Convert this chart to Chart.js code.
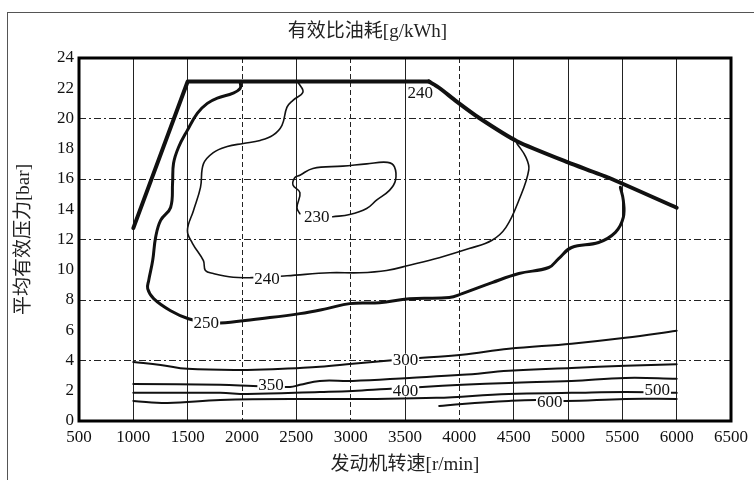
<!DOCTYPE html>
<html>
<head>
<meta charset="utf-8">
<script src="https://cdn.jsdelivr.net/npm/chart.js@4.4.1/dist/chart.umd.min.js"></script>
<style>
  html, body { margin: 0; padding: 0; background: #fff; }
</style>
</head>
<body>
<canvas id="bsfcChart" width="754" height="480"></canvas>
<script>
// ===== DATA =====
const rpmRange = [500, 6500];
const rpmStep = 500;
const barRange = [0, 24];
const barStep = 2;
const dashedRpm = [2000, 3000, 4000];
const gridBar = [4, 8, 12, 16, 20];

// full load line [rpm, bar]
const fullLoadEdge = [[1000, 12.75], [1500, 22.45], [3720, 22.45]];
const fullLoadCurve = [[3720, 22.45], [3820, 22.0], [3970, 21.15], [4180, 20.05], [4530, 18.5], [5000, 17.1], [5370, 16.1], [6000, 14.1]];

// BSFC contours [rpm, bar]
const c230 = [[2533, 13.7], [2506, 14.1], [2533, 15.1], [2469, 15.6], [2487, 16.1], [2533, 16.25], [2652, 16.7], [2927, 16.85], [3147, 17.0], [3339, 17.1], [3403, 16.8], [3412, 15.9], [3357, 15.25], [3238, 14.6], [3147, 14.05], [2991, 13.65], [2835, 13.5]];
const c240 = [[2515, 22.4], [2561, 21.75], [2469, 21.2], [2414, 20.75], [2368, 19.55], [2286, 18.9], [2167, 18.55], [2011, 18.35], [1864, 18.15], [1736, 17.75], [1645, 17.0], [1618, 15.45], [1553, 13.9], [1498, 12.6], [1544, 11.75], [1645, 10.6], [1663, 9.95], [1736, 9.75], [1919, 9.5], [2093, 9.48], [2414, 9.6], [2808, 9.8], [3083, 9.8], [3330, 9.95], [3540, 10.3], [3815, 10.8], [4090, 11.4], [4301, 11.95], [4429, 12.8], [4548, 14.6], [4639, 16.6], [4612, 17.45], [4530, 18.35]];
const c250 = [[1984, 22.4], [1984, 22.0], [1919, 21.68], [1773, 21.35], [1681, 21.0], [1590, 20.36], [1498, 19.23], [1416, 18.1], [1370, 17.04], [1361, 15.72], [1343, 14.12], [1251, 13.26], [1205, 12.14], [1178, 10.61], [1141, 9.28], [1132, 8.75], [1187, 8.09], [1343, 7.29], [1507, 6.76], [1681, 6.5], [1846, 6.5], [2167, 6.76], [2533, 7.1], [2780, 7.43], [2991, 7.76], [3266, 7.82], [3540, 8.09], [3907, 8.16], [4026, 8.42], [4301, 9.15], [4548, 9.75], [4823, 10.15], [4914, 10.74], [5033, 11.47], [5281, 11.8], [5436, 12.47], [5509, 13.46], [5509, 14.59], [5482, 15.45]];
const c300 = [[1000, 3.9], [1251, 3.71], [1498, 3.45], [2048, 3.38], [2533, 3.51], [2716, 3.58], [3018, 3.78], [3330, 3.98], [3660, 4.18], [4026, 4.38], [4456, 4.77], [5033, 5.11], [5528, 5.5], [6000, 5.97]];
const c350 = [[1000, 2.45], [1800, 2.39], [2103, 2.32], [2442, 2.25], [2533, 2.39], [2716, 2.65], [3018, 2.65], [3540, 2.85], [4026, 3.05], [4456, 3.32], [5033, 3.51], [5528, 3.65], [6000, 3.75]];
const c400 = [[1000, 1.86], [1800, 1.86], [2048, 1.79], [2716, 1.92], [3018, 1.99], [3330, 2.12], [3660, 2.25], [4026, 2.39], [4456, 2.52], [5033, 2.65], [5528, 2.85], [6000, 2.8]];
const c500 = [[1000, 1.33], [1315, 1.19], [1800, 1.39], [2716, 1.46], [3238, 1.46], [3788, 1.53], [4456, 1.79], [5033, 1.86], [5528, 1.92], [6000, 1.86]];
const c600 = [[3815, 0.99], [4026, 1.13], [4456, 1.33], [4704, 1.39], [4978, 1.33], [5528, 1.46], [6000, 1.46]];

// contour labels [text, rpm, bar]
const contourLabels = [
    ['230', 2689, 13.5], ['240', 3640, 21.7], ['240', 2231, 9.45], ['250', 1672, 6.5],
    ['300', 3504, 4.05], ['350', 2268, 2.4], ['400', 3504, 2.0], ['500', 5821, 2.05], ['600', 4832, 1.26]
];

// ===== STYLE =====
const serif = "'Liberation Serif', 'Noto Sans CJK SC', serif";
Chart.defaults.font.family = serif;
Chart.defaults.color = '#111';

const lineSet = (pts, width, tension) => ({
    data: pts.map(([x, y]) => ({ x, y })),
    showLine: true,
    borderColor: '#111',
    borderWidth: width,
    pointRadius: 0,
    pointHoverRadius: 0,
    tension: tension,
    fill: false,
    borderCapStyle: 'round',
    borderJoinStyle: 'round'
});

// ===== FRAME + LABELS =====
const framePlugin = {
    id: 'frame',
    beforeDraw(chart) {
        const { ctx, width, height } = chart;
        ctx.save();
        ctx.fillStyle = '#fff';
        ctx.fillRect(0, 0, width, height);
        ctx.strokeStyle = '#555';
        ctx.lineWidth = 1;
        ctx.strokeRect(7.5, 12.5, width, height);
        ctx.restore();
    },
    afterDatasetsDraw(chart) {
        const { ctx, chartArea: a, scales: { x, y } } = chart;
        ctx.save();
        ctx.font = '17px ' + serif;
        ctx.textAlign = 'center';
        ctx.textBaseline = 'middle';
        contourLabels.forEach(([text, rpm, bar]) => {
            const px = x.getPixelForValue(rpm);
            const py = y.getPixelForValue(bar);
            const w = ctx.measureText(text).width;
            ctx.fillStyle = '#fff';
            ctx.fillRect(px - w / 2 - 1, py - 6, w + 2, 12);
            ctx.fillStyle = '#111';
            ctx.fillText(text, px, py + 1);
        });
        ctx.lineWidth = 3;
        ctx.strokeStyle = '#000';
        ctx.strokeRect(a.left, a.top, a.right - a.left, a.bottom - a.top);
        ctx.restore();
    }
};

new Chart(document.getElementById('bsfcChart'), {
    type: 'scatter',
    data: {
        datasets: [
            lineSet(fullLoadEdge, 4, 0),
            lineSet(fullLoadCurve, 4, 0.2),
            lineSet(c230, 1.6, 0.4),
            lineSet(c240, 1.6, 0.4),
            lineSet(c250, 3, 0.4),
            lineSet(c300, 2, 0.4),
            lineSet(c350, 2, 0.4),
            lineSet(c400, 2, 0.4),
            lineSet(c500, 2, 0.4),
            lineSet(c600, 2, 0.4)
        ]
    },
    options: {
        responsive: false,
        animation: false,
        layout: { padding: { left: 0, right: 19, top: 0, bottom: 0 } },
        plugins: {
            legend: { display: false },
            tooltip: { enabled: false },
            title: {
                display: true,
                text: '有效比油耗[g/kWh]',
                color: '#222',
                font: { size: 19, weight: 'normal' },
                padding: { top: 20.6, bottom: 14.6 }
            }
        },
        scales: {
            x: {
                type: 'linear',
                min: rpmRange[0],
                max: rpmRange[1],
                afterFit: s => { s.height = 59; },
                ticks: {
                    stepSize: rpmStep,
                    padding: 6,
                    color: '#111',
                    font: { size: 17 },
                    maxRotation: 0,
                    autoSkip: false,
                    callback: v => String(v)
                },
                grid: {
                    drawTicks: false,
                    lineWidth: 1,
                    color: ctx => (ctx.tick && ctx.tick.value > rpmRange[0] && ctx.tick.value < rpmRange[1]) ? '#222' : 'transparent'
                },
                border: {
                    display: false,
                    dash: ctx => (ctx.tick && dashedRpm.includes(ctx.tick.value)) ? [5, 3] : []
                },
                title: {
                    display: true,
                    text: '发动机转速[r/min]',
                    color: '#222',
                    font: { size: 19 },
                    padding: { top: 0, bottom: 3.4 }
                }
            },
            y: {
                type: 'linear',
                min: barRange[0],
                max: barRange[1],
                afterFit: s => { s.width = 79; },
                ticks: {
                    stepSize: barStep,
                    padding: 5,
                    color: '#111',
                    font: { size: 17 },
                    callback: v => String(v)
                },
                grid: {
                    drawTicks: false,
                    lineWidth: 1,
                    color: ctx => (ctx.tick && gridBar.includes(ctx.tick.value)) ? '#222' : 'transparent'
                },
                border: {
                    display: false,
                    dash: [7, 3, 2, 3]
                },
                title: {
                    display: true,
                    text: '平均有效压力[bar]',
                    color: '#222',
                    font: { size: 19 },
                    padding: { top: 12.4, bottom: 0 }
                }
            }
        }
    },
    plugins: [framePlugin]
});
</script>
</body>
</html>
